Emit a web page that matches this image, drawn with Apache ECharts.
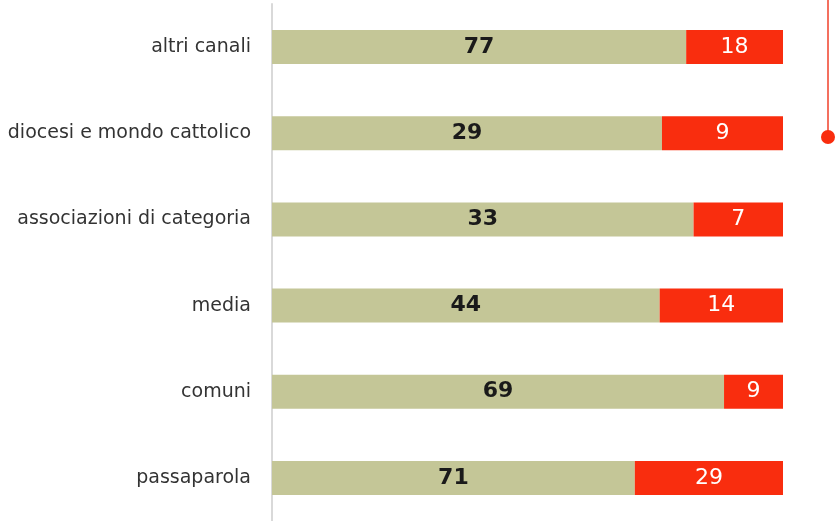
<!DOCTYPE html>
<html>
<head>
<meta charset="utf-8">
<script src="https://cdn.jsdelivr.net/npm/echarts@6/dist/echarts.min.js"></script>
<style>
  html, body { margin: 0; padding: 0; background: #fff; }
  #chart { width: 836px; height: 521px; }
</style>
</head>
<body>
<div id="chart"></div>
<script>
var categories = ['altri canali', 'diocesi e mondo cattolico', 'associazioni di categoria', 'media', 'comuni', 'passaparola'];
var greenValues = [77, 29, 33, 44, 69, 71];
var redValues = [18, 9, 7, 14, 9, 29];

var myChart = echarts.init(document.getElementById('chart'));

// bars are drawn as share of the row total, labels show the raw counts
function share(arr, i) {
    return arr[i] / (greenValues[i] + redValues[i]) * 100;
}
var greenData = categories.map(function (c, i) { return { value: share(greenValues, i), raw: greenValues[i] }; });
var redData = categories.map(function (c, i) { return { value: share(redValues, i), raw: redValues[i] }; });

var fontFam = '"DejaVu Sans", sans-serif';

var option = {
    animation: false,
    grid: {
        left: 272,
        right: 53,
        top: 4,
        bottom: 0
    },
    xAxis: {
        type: 'value',
        min: 0,
        max: 100,
        show: false
    },
    yAxis: {
        type: 'category',
        data: categories,
        inverse: true,
        axisLine: { show: true, lineStyle: { color: '#d9d9d9', width: 2 } },
        axisTick: { show: false },
        axisLabel: {
            color: '#333',
            fontSize: 19,
            fontFamily: fontFam,
            margin: 21
        }
    },
    series: [
        {
            name: 'a',
            type: 'bar',
            stack: 'tot',
            barWidth: 34,
            data: greenData,
            itemStyle: { color: '#c4c697' },
            label: {
                show: true,
                position: 'inside',
                color: '#1a1a1a',
                fontSize: 22,
                fontWeight: 'bold',
                fontFamily: fontFam,
                formatter: function (p) { return p.data.raw; }
            }
        },
        {
            name: 'b',
            type: 'bar',
            stack: 'tot',
            barWidth: 34,
            data: redData,
            itemStyle: { color: '#f92d0e' },
            label: {
                show: true,
                position: 'inside',
                color: '#fff',
                fontSize: 22,
                fontFamily: fontFam,
                formatter: function (p) { return p.data.raw; }
            }
        }
    ],
    graphic: [
        {
            type: 'line',
            shape: { x1: 828, y1: 0, x2: 828, y2: 132 },
            style: { stroke: '#f0402a', lineWidth: 1.5 }
        },
        {
            type: 'circle',
            shape: { cx: 828, cy: 137, r: 7 },
            style: { fill: '#f92d0e' }
        }
    ]
};

myChart.setOption(option);
</script>
</body>
</html>
